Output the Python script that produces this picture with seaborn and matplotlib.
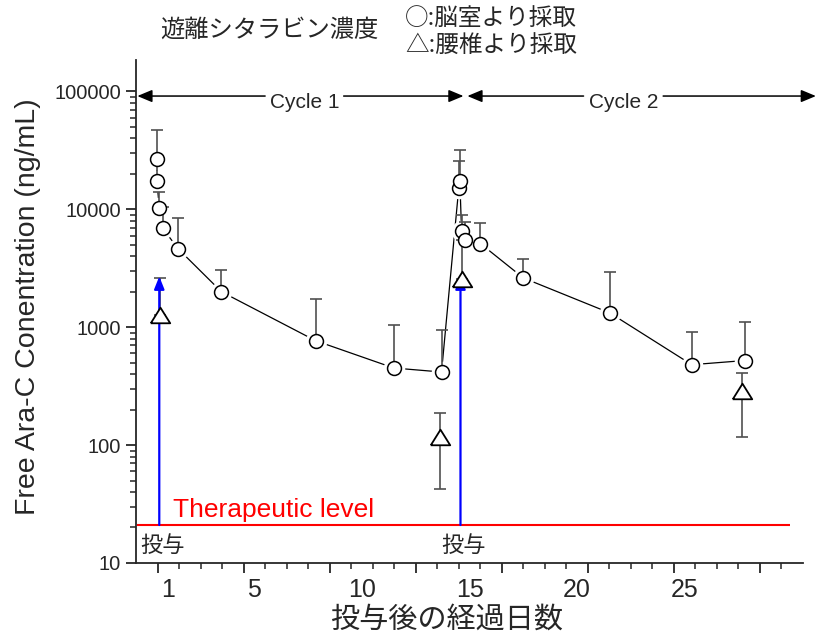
import numpy as np
import pandas as pd
import matplotlib
matplotlib.use('Agg')  # no display
import matplotlib.pyplot as plt
import seaborn as sns
from matplotlib.ticker import FixedLocator, LogLocator, NullFormatter

# Ventricular samples (circles): day, mean, mean+SD
vent_day = [0.47, 0.47, 0.58, 0.73, 1.45, 3.47, 7.85, 11.48, 13.70,
            14.50, 14.55, 14.63, 14.81, 15.51, 17.50, 21.53, 25.33, 27.80]
vent_conc = [26800, 17500, 10300, 6960, 4640, 2000, 768, 451, 417,
             15200, 17500, 6510, 5530, 5120, 2620, 1320, 481, 522]
vent_upper = [46900, 27400, 13960, 10400, 8450, 3030, 1745, 1050, 940,
              25600, 32200, 8970, 7760, 7680, 3820, 2960, 910, 1099]

# Lumbar samples (triangles)
lumb_day = [0.63, 13.62, 14.66, 27.65]
lumb_conc = [1265, 118, 2580, 285]
lumb_upper = [2600, 187, 5500, 413]
lumb_lower = [1265, 42.3, 2580, 118]

# Dosing days and therapeutic level
dose_day = [0.58, 14.58]
dose_top = 2700
therapeutic_level = 21

# x tick labels (days) and y tick labels
x_label_pos = [1, 5, 10, 15, 20, 25]
x_labels = ['1', '5', '10', '15', '20', '25']
y_ticks = [10, 100, 1000, 10000, 100000]
y_labels = ['10', '100', '1000', '10000', '100000']

sns.set_style('ticks')
plt.rcParams['font.family'] = ['Liberation Sans', 'Noto Sans CJK JP', 'DejaVu Sans']
jp = ['Noto Sans CJK JP', 'DejaVu Sans']

fig = plt.figure(figsize=(8.23, 6.37), dpi=100)
ax = fig.add_axes([0.1653, 0.1162, 0.8104, 0.7896])
ax.set_yscale('log')
ax.set_xlim(-0.5, 30.5)
ax.set_ylim(10, 1.85e5)

vent = pd.DataFrame({'day': vent_day, 'conc': vent_conc, 'upper': vent_upper})
lumb = pd.DataFrame({'day': lumb_day, 'conc': lumb_conc,
                     'upper': lumb_upper, 'lower': lumb_lower})

# connecting line for ventricular data
sns.lineplot(data=vent, x='day', y='conc', estimator=None, sort=False,
             color='black', lw=0.9, ax=ax, zorder=1)
# white halo so the line stops short of the markers
ax.scatter(vent['day'], vent['conc'], s=14.5 ** 2, color='white', zorder=2)

# error bars
ax.errorbar(vent['day'], vent['conc'], yerr=[np.zeros(len(vent)), vent['upper'] - vent['conc']],
            fmt='none', ecolor='#505050', elinewidth=1.2, capsize=4, capthick=1.2, zorder=3)
ax.errorbar(lumb['day'], lumb['conc'],
            yerr=[lumb['conc'] - lumb['lower'], lumb['upper'] - lumb['conc']],
            fmt='none', ecolor='#505050', elinewidth=1.2, capsize=4, capthick=1.2, zorder=3)

# blue dosing arrows
for d in dose_day:
    ax.annotate('', xy=(d, dose_top), xytext=(d, therapeutic_level),
                arrowprops=dict(arrowstyle='-|>,head_length=0.5,head_width=0.2',
                                color='#0000ff', lw=1.6, shrinkA=0, shrinkB=0,
                                mutation_scale=15), zorder=3)

# markers
sns.scatterplot(data=vent, x='day', y='conc', marker='o', s=10 ** 2,
                color='white', edgecolor='black', linewidth=1.1, ax=ax, zorder=4)
tri = [(-1, -0.8), (1, -0.8), (0, 0.8), (-1, -0.8)]
sns.scatterplot(data=lumb, x='day', y='conc', marker=tri, s=14 ** 2,
                color='white', edgecolor='black', linewidth=1.3, ax=ax, zorder=4)

# therapeutic level
ax.hlines(therapeutic_level, -0.45, 29.9, color='red', lw=1.5, zorder=2)
ax.text(1.2, 24.5, 'Therapeutic level', color='red', fontsize=19, va='baseline')
for d in dose_day:
    ax.text(d + 0.15, 14.2, '投与', fontsize=16, family=jp, ha='center', va='center')

# cycle arrows
cyc_y = 91500
arrow_kw = dict(arrowstyle='-|>,head_length=0.6,head_width=0.25', color='black',
                lw=1.1, shrinkA=0, shrinkB=0, mutation_scale=15)
for start, end in [(5.5, -0.44), (9.15, 14.72), (20.3, 14.9), (24.0, 31.1)]:
    ax.annotate('', xy=(end, cyc_y), xytext=(start, cyc_y), arrowprops=arrow_kw,
                annotation_clip=False)
ax.text(7.33, 80000, 'Cycle 1', fontsize=15, ha='center', va='center')
ax.text(22.15, 80000, 'Cycle 2', fontsize=15, ha='center', va='center')

# axes styling
sns.despine(ax=ax)
for s in ['left', 'bottom']:
    ax.spines[s].set_linewidth(1.3)
ax.set_xlabel('')
ax.set_ylabel('')
ax.xaxis.set_major_locator(FixedLocator(np.arange(0.5, 30, 4)))
ax.xaxis.set_minor_locator(FixedLocator(np.arange(0.5, 30, 1)))
ax.xaxis.set_major_formatter(NullFormatter())
ax.tick_params(axis='x', which='major', length=7, width=1.3, direction='out')
ax.tick_params(axis='x', which='minor', length=4, width=1.1, direction='out')

secax = ax.secondary_xaxis('bottom')
secax.set_xticks(x_label_pos)
secax.set_xticklabels(x_labels, fontsize=18)
secax.tick_params(length=0, pad=11)
secax.spines['bottom'].set_visible(False)

ax.yaxis.set_major_locator(FixedLocator(y_ticks))
ax.set_yticklabels(y_labels, fontsize=14.5)
ax.yaxis.set_minor_locator(LogLocator(base=10, subs=np.arange(2, 10)))
ax.yaxis.set_minor_formatter(NullFormatter())
ax.tick_params(axis='y', which='major', length=7, width=1.3, direction='out', pad=4)
ax.tick_params(axis='y', which='minor', length=4, width=1.1, direction='out')

# labels and headings
fig.text(447 / 823, 1 - 620 / 637, '投与後の経過日数', fontsize=21, family=jp,
         ha='center', va='center')
fig.text(28 / 823, 1 - 307 / 637, 'Free Ara-C Conentration (ng/mL)', fontsize=20.5,
         rotation=90, ha='center', va='center')
fig.text(160 / 823, 1 - 30 / 637, '遊離シタラビン濃度', fontsize=17.5, family=jp,
         ha='left', va='center')
fig.text(405 / 823, 1 - 18 / 637, '○:脳室より採取', fontsize=17, family=jp,
         ha='left', va='center')
fig.text(405 / 823, 1 - 45 / 637, '△:腰椎より採取', fontsize=17, family=jp,
         ha='left', va='center')

fig.savefig('out.png', dpi=100)
